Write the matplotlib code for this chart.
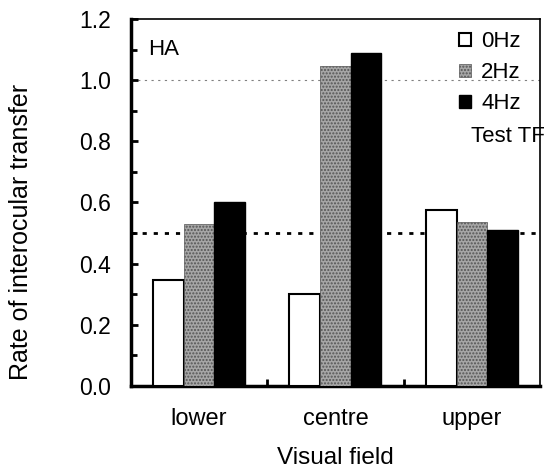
import matplotlib.pyplot as plt
import numpy as np

plt.rcParams['font.family'] = ['Liberation Sans', 'DejaVu Sans']

fields = ['lower', 'centre', 'upper']
hz0 = [0.345, 0.30, 0.575]
hz2 = [0.53, 1.045, 0.535]
hz4 = [0.60, 1.09, 0.51]

fig = plt.figure(figsize=(5.45, 4.73), dpi=100)
ax = fig.add_axes([0.240, 0.184, 0.751, 0.776])

x = np.arange(len(fields))
w = 0.225
ax.bar(x - w, hz0, w, color='white', edgecolor='black', linewidth=1.5, label='0Hz', zorder=3)
ax.bar(x, hz2, w, color='#a6a6a6', edgecolor='#555555', hatch='.....', linewidth=0.5, label='2Hz', zorder=3)
ax.bar(x + w, hz4, w, color='black', edgecolor='black', label='4Hz', zorder=3)

ax.axhline(1.0, color='gray', linestyle=(0, (2, 4)), linewidth=0.8, zorder=1)
ax.axhline(0.5, color='black', linestyle=(0, (1.5, 2.5)), linewidth=2, zorder=1)

fs = 16
ax.set_xlim(-0.5, 2.5)
ax.set_ylim(0, 1.2)
ax.set_yticks(np.arange(0, 1.21, 0.2))
ax.set_yticklabels(['0.0', '0.2', '0.4', '0.6', '0.8', '1.0', '1.2'])
ax.set_yticks(np.arange(0.1, 1.2, 0.2), minor=True)
ax.set_xticks(x)
ax.set_xticklabels(fields)
ax.set_xticks([0.5, 1.5], minor=True)
ax.tick_params(axis='x', which='major', length=0, pad=16, labelsize=17)
ax.tick_params(axis='x', which='minor', direction='in', length=5, width=2)
ax.tick_params(axis='y', which='both', direction='in', width=2, labelsize=16.5)
ax.tick_params(axis='y', which='major', length=5, pad=14)
ax.tick_params(axis='y', which='minor', length=4)

ax.spines['left'].set_linewidth(2.5)
ax.spines['bottom'].set_linewidth(2.5)
ax.spines['top'].set_linewidth(1.2)
ax.spines['top'].set_linestyle((0, (3, 1)))
ax.spines['right'].set_linewidth(1.2)

ax.set_xlabel('Visual field', fontsize=17.5, labelpad=12)
ax.set_ylabel('Rate of interocular transfer', fontsize=18)
ax.yaxis.set_label_coords(-0.24, 0.42)

ax.text(0.042, 0.916, 'HA', transform=ax.transAxes, fontsize=fs, va='center')
leg = ax.legend(loc='upper right', frameon=False, fontsize=fs, handlelength=0.55,
                handleheight=0.55, handletextpad=0.45, labelspacing=0.45,
                borderaxespad=0.0, bbox_to_anchor=(0.975, 0.99))
ax.text(1.012, 0.681, 'Test TF', transform=ax.transAxes, fontsize=fs, ha='right', va='center')

fig.savefig('out.png', dpi=100)
